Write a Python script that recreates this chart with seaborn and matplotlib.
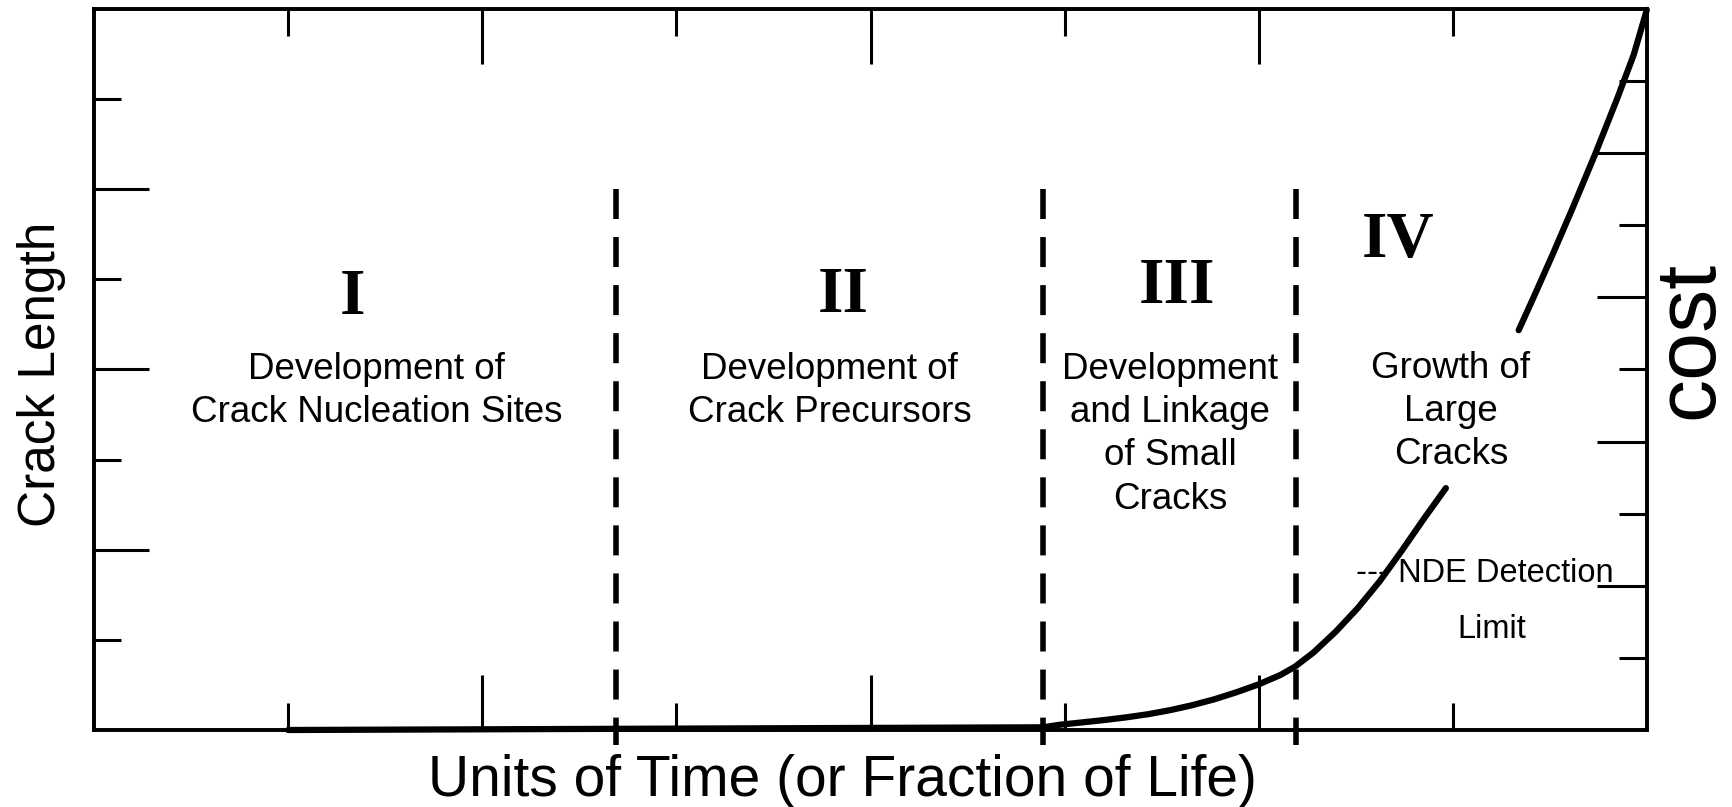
import matplotlib
matplotlib.use("Agg")
import matplotlib.pyplot as plt
import seaborn as sns
import pandas as pd

# ---------------- data ----------------
x_major_ticks = [2, 4, 6]
x_minor_ticks = [1, 3, 5, 7]
left_major_ticks = [2, 4, 6]
left_minor_ticks = [1, 3, 5, 7]
right_major_ticks = [2, 4, 6, 8]
right_minor_ticks = [1, 3, 5, 7, 9]

stage_boundaries = [2.69, 4.89, 6.19]

curve_lower_x = [1.0, 4.89, 4.974, 5.088, 5.202, 5.316, 5.429, 5.543, 5.657, 5.770,
                 5.884, 5.998, 6.111, 6.185, 6.282, 6.396, 6.509, 6.623, 6.737,
                 6.851, 6.964]
curve_lower_y = [0.0, 0.03, 0.058, 0.084, 0.110, 0.140, 0.175, 0.220, 0.275, 0.340,
                 0.418, 0.505, 0.610, 0.700, 0.860, 1.090, 1.350, 1.650, 1.990,
                 2.345, 2.684]
curve_upper_x = [7.339, 7.419, 7.510, 7.618, 7.732, 7.845, 7.931, 7.999]
curve_upper_y = [4.436, 4.816, 5.257, 5.797, 6.385, 6.998, 7.488, 7.99]

stage_numerals = ["I", "II", "III", "IV"]
numeral_x = [1.33, 3.86, 5.58, 6.72]
numeral_y = [4.79, 4.82, 4.91, 5.43]

stage_texts = ["Development of\nCrack Nucleation Sites",
               "Development of\nCrack Precursors",
               "Development\nand Linkage\nof Small\nCracks",
               "Growth of\nLarge\nCracks"]
stage_text_x = [1.455, 3.79, 5.543, 6.99]
stage_text_y = [3.76, 3.76, 3.28, 3.53]

nde_label = "--- NDE Detection"
nde_x, nde_y = 6.50, 1.74
limit_label = "Limit"
limit_x, limit_y = 7.20, 1.12

x_label = "Units of Time (or Fraction of Life)"
y_label = "Crack Length"
y2_label = "cost"

# ---------------- style ----------------
sns.set_theme(style="ticks")
plt.rcParams["font.family"] = ["Liberation Sans", "DejaVu Sans"]
plt.rcParams["text.color"] = "black"

fig = plt.figure(figsize=(17.32, 8.07), dpi=100)
ax = fig.add_axes([94 / 1732, 1 - 730 / 807, (1647 - 94) / 1732, (730 - 9) / 807])
ax.set_xlim(0, 8)
ax.set_ylim(0, 8)

lower = pd.DataFrame({"t": curve_lower_x, "a": curve_lower_y})
upper = pd.DataFrame({"t": curve_upper_x, "a": curve_upper_y})
for df in (lower, upper):
    sns.lineplot(data=df, x="t", y="a", ax=ax, color="black", lw=4.5,
                 sort=False, estimator=None, clip_on=False, zorder=3,
                 solid_joinstyle="round")

for b in stage_boundaries:
    ax.plot([b, b], [6.0, -0.17], color="black", lw=4.0,
            ls=(0, (5.4, 3.25)), clip_on=False, zorder=4)

for s, x, y in zip(stage_numerals, numeral_x, numeral_y):
    ax.text(x, y, s, ha="center", va="center", fontsize=47, color="black",
            family=["Liberation Serif", "DejaVu Serif"], fontweight="bold")

for s, x, y in zip(stage_texts, stage_text_x, stage_text_y):
    ax.text(x, y, s, ha="center", va="center", fontsize=26.5,
            linespacing=1.3, color="black")

ax.text(nde_x, nde_y, nde_label, ha="left", va="center", fontsize=23.5, color="black")
ax.text(limit_x, limit_y, limit_label, ha="center", va="center", fontsize=23.5, color="black")

for sp in ax.spines.values():
    sp.set_linewidth(2.6)
    sp.set_color("black")
    sp.set_visible(True)

ax.set_xticks(x_major_ticks)
ax.set_xticks(x_minor_ticks, minor=True)
ax.set_yticks(left_major_ticks)
ax.set_yticks(left_minor_ticks, minor=True)
ax.tick_params(which="major", direction="in", length=39.6, width=2.2, color="black",
               top=True, bottom=True, left=True, right=False,
               labelleft=False, labelbottom=False)
ax.tick_params(which="minor", direction="in", length=19.4, width=2.2, color="black",
               top=True, bottom=True, left=True, right=False)
ax.set_xlabel("")
ax.set_ylabel("")

ax2 = ax.twinx()
ax2.set_ylim(0, 10)
ax2.set_yticks(right_major_ticks)
ax2.set_yticks(right_minor_ticks, minor=True)
ax2.tick_params(axis="y", which="major", direction="in", length=36, width=2.2, color="black",
                right=True, left=False, labelright=False)
ax2.tick_params(axis="y", which="minor", direction="in", length=20, width=2.2, color="black",
                right=True, left=False)
for sp in ax2.spines.values():
    sp.set_linewidth(2.6)
    sp.set_color("black")

fig.text(842 / 1732, 1 - 781 / 807, x_label, ha="center", va="center", fontsize=41, color="black")
fig.text(42 / 1732, 1 - 374 / 807, y_label, ha="center", va="center", fontsize=37,
         rotation=90, color="black")
fig.text(1690 / 1732, 1 - 340 / 807, y2_label, ha="center", va="center", fontsize=62,
         rotation=90, color="black")

fig.savefig("out.png", dpi=100)
